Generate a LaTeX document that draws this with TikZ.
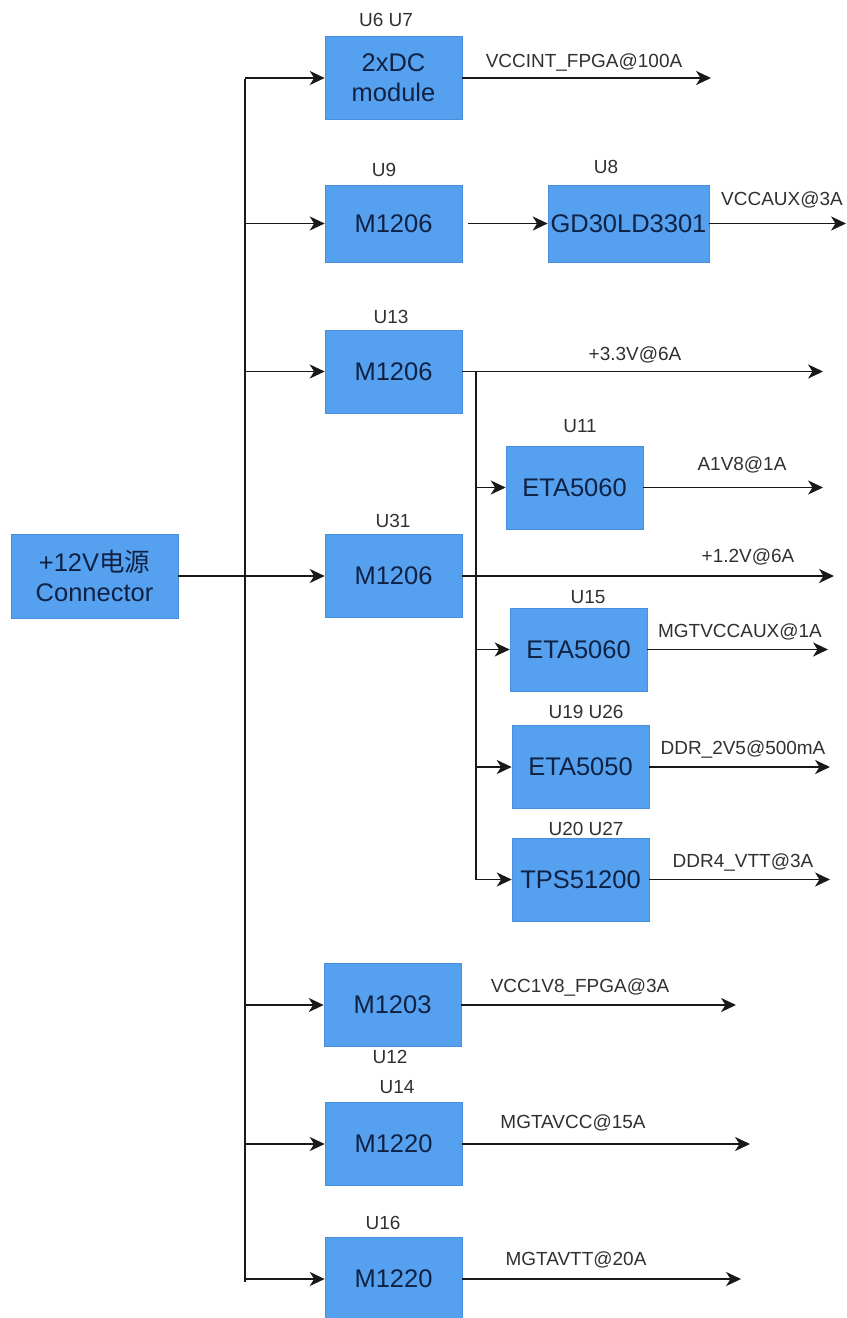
\documentclass[tikz,border=0pt]{standalone}
\usepackage{fontspec}
\setmainfont{Liberation Sans}
\newfontfamily\cjk{Noto Sans CJK SC}
\usetikzlibrary{arrows.meta}
\definecolor{boxblue}{RGB}{86,160,240}
\definecolor{boxedge}{RGB}{72,142,218}
\definecolor{boxtext}{RGB}{16,34,68}
\definecolor{linec}{RGB}{25,25,25}
\newcommand{\boxfont}{\fontsize{14.5}{17}\selectfont}
\newcommand{\tagfont}{\fontsize{10.8}{12}\selectfont}

\begin{document}
\begin{tikzpicture}[x=0.02cm,y=-0.02cm,
	blk/.style={draw=boxedge, fill=boxblue, text=boxtext, font=\boxfont, minimum width=2.74cm, minimum height=1.66cm, inner sep=0, align=center},
	tag/.style={font=\tagfont, text=linec!90, inner sep=0},
	wire/.style={draw=linec, line width=0.9pt},
	arr/.style={wire, -{Stealth[length=8.5pt, width=8pt, inset=2.5pt]}}]
	\useasboundingbox (0,0) rectangle (846,1318);

	% source and bus
	\node [blk, minimum width=3.34cm, minimum height=1.68cm] at (94.5,576) (conn) {+12V{\cjk 电源}\\Connector};
	\coordinate (bustop) at (245,79);
	\coordinate (busbot) at (245,1282);
	\draw [wire] (bustop) -- (busbot);

	% first level modules
	\node [blk] at (393.5,78) (dc) {2xDC\\module};
	\node [blk, minimum height=1.54cm] at (393.5,223.5) (u9) {M1206};
	\node [blk, minimum width=3.22cm, minimum height=1.54cm] at (628.5,223.5) (u8) {GD30LD3301};
	\node [blk] at (393.5,371.5) (u13) {M1206};
	\node [blk] at (393.5,576) (u31) {M1206};
	\node [blk] at (392.5,1005) (u12) {M1203};
	\node [blk] at (393.5,1144) (u14) {M1220};
	\node [blk] at (393.5,1279) (u16) {M1220};

	% second level modules
	\node [blk] at (574.5,487.5) (u11) {ETA5060};
	\node [blk] at (578.5,649.5) (u15) {ETA5060};
	\node [blk] at (580.5,767) (u19) {ETA5050};
	\node [blk] at (580.5,879.5) (u20) {TPS51200};

	% part numbers
	\node [tag] at (386,20) (tdc) {U6 U7};
	\node [tag] at (384,170) (tu9) {U9};
	\node [tag] at (606,167) (tu8) {U8};
	\node [tag] at (391,317) (tu13) {U13};
	\node [tag] at (580,426) (tu11) {U11};
	\node [tag] at (393,521) (tu31) {U31};
	\node [tag] at (588,597) (tu15) {U15};
	\node [tag] at (586,712) (tu19) {U19 U26};
	\node [tag] at (586,829) (tu20) {U20 U27};
	\node [tag] at (390,1057) (tu12) {U12};
	\node [tag] at (397,1087) (tu14) {U14};
	\node [tag] at (383,1223) (tu16) {U16};

	% bus feeds
	\draw [arr] (conn) -- (u31);
	\draw [arr] (dc.west -| bustop) -- (dc.west);
	\draw [arr] (u9.west -| bustop) -- (u9.west);
	\draw [arr] (u13.west -| bustop) -- (u13.west);
	\draw [arr] (u12.west -| bustop) -- (u12.west);
	\draw [arr] (u14.west -| bustop) -- (u14.west);
	\draw [arr] (u16.west -| busbot) -- (u16.west);
	\draw [arr, shorten <=3.5pt] (u9) -- (u8);

	% branch from the 3.3V rail
	\coordinate (br) at (476,371.5);
	\coordinate (brend) at (476,879.5);
	\draw [wire] (br) -- (brend);
	\draw [arr] (u11.west -| br) -- (u11.west);
	\draw [arr] (u15.west -| br) -- (u15.west);
	\draw [arr] (u19.west -| br) -- (u19.west);
	\draw [arr] (brend) -- (u20.west);

	% outputs
	\coordinate (odc) at (711,78);
	\coordinate (ou8) at (846,223.5);
	\coordinate (ou13) at (823,371.5);
	\coordinate (ou11) at (823,487.5);
	\coordinate (ou31) at (834,576);
	\coordinate (ou15) at (828,649.5);
	\coordinate (ou19) at (830,767);
	\coordinate (ou20) at (830,879.5);
	\coordinate (ou12) at (736,1005);
	\coordinate (ou14) at (750,1144);
	\coordinate (ou16) at (741,1279);
	\draw [arr] (dc.east) -- (odc);
	\draw [arr] (u8.east) -- (ou8);
	\draw [arr] (u13.east) -- (ou13);
	\draw [arr] (u11.east) -- (ou11);
	\draw [arr] (u31.east) -- (ou31);
	\draw [arr] (u15.east) -- (ou15);
	\draw [arr] (u19.east) -- (ou19);
	\draw [arr] (u20.east) -- (ou20);
	\draw [arr] (u12.east) -- (ou12);
	\draw [arr] (u14.east) -- (ou14);
	\draw [arr] (u16.east) -- (ou16);

	% rail names
	\node [tag] at (584,63) (ldc) {VCCINT\_FPGA@100A};
	\node [tag] at (782,200) (lu8) {VCCAUX@3A};
	\node [tag] at (635,355) (lu13) {+3.3V@6A};
	\node [tag] at (742,465) (lu11) {A1V8@1A};
	\node [tag] at (748,557) (lu31) {+1.2V@6A};
	\node [tag] at (740,632) (lu15) {MGTVCCAUX@1A};
	\node [tag] at (743,750) (lu19) {DDR\_2V5@500mA};
	\node [tag] at (743,863) (lu20) {DDR4\_VTT@3A};
	\node [tag] at (580,987) (lu12) {VCC1V8\_FPGA@3A};
	\node [tag] at (573,1123) (lu14) {MGTAVCC@15A};
	\node [tag] at (576,1260) (lu16) {MGTAVTT@20A};
\end{tikzpicture}
\end{document}
